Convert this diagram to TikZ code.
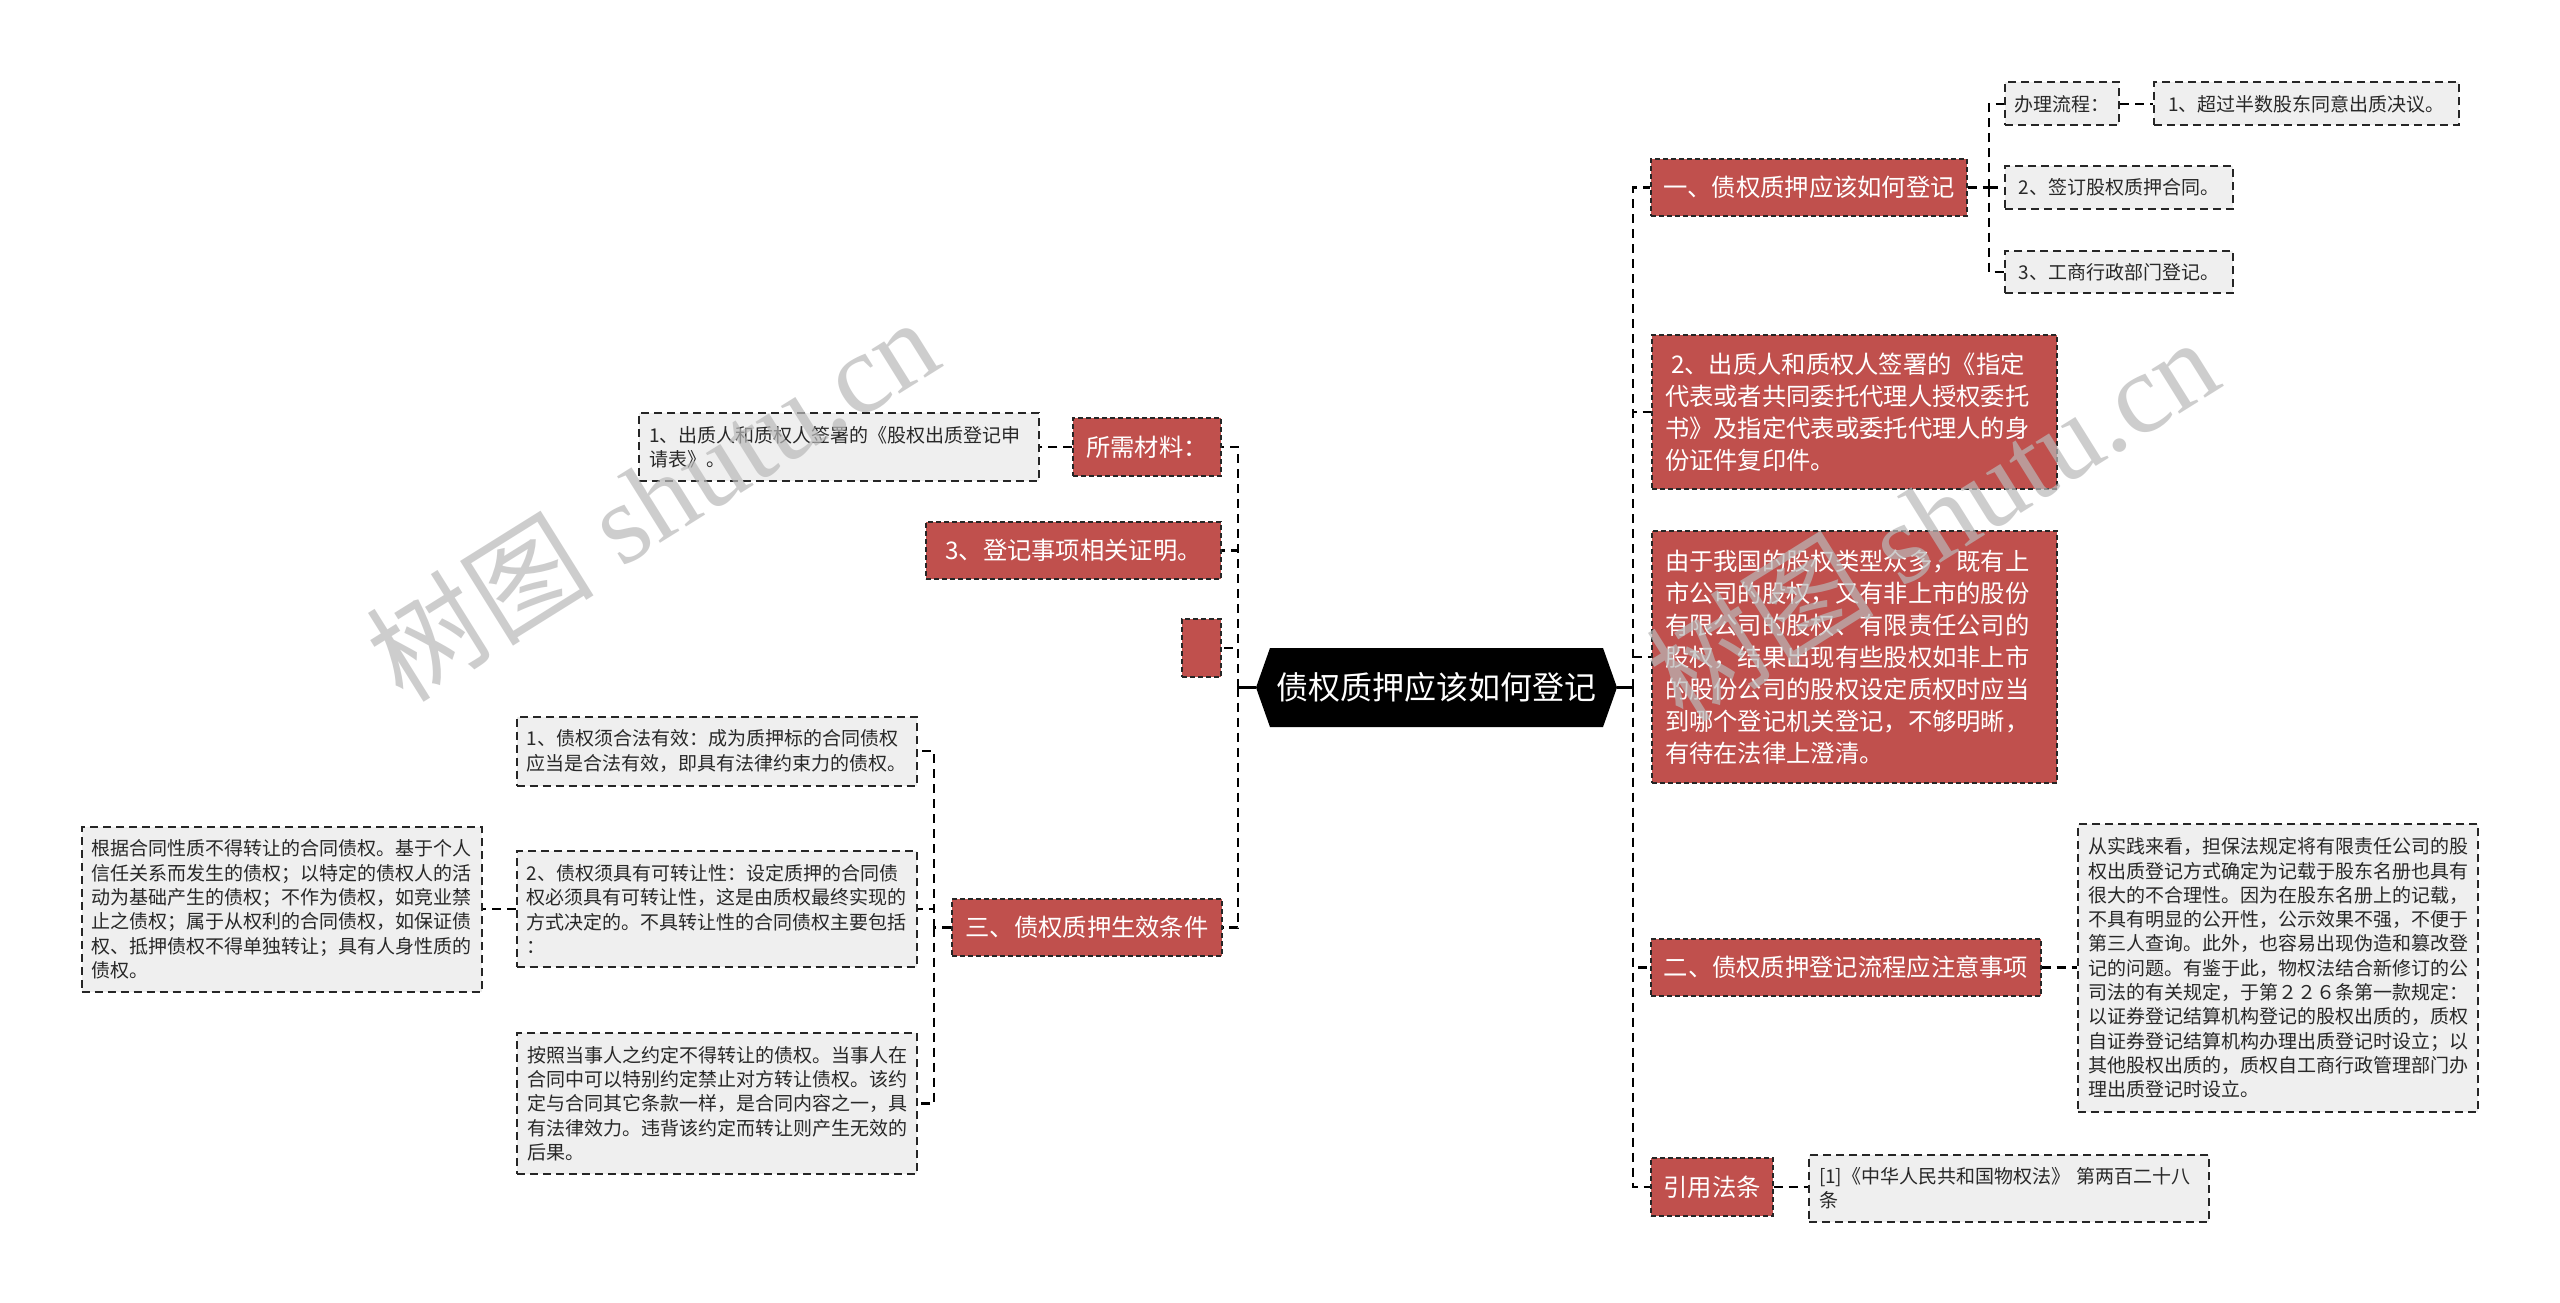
\documentclass[tikz,border=0pt]{standalone}
\usepackage{fontspec}
\newfontfamily\cjk{Noto Sans CJK SC}
\newfontfamily\wmserif{Liberation Serif}
\usetikzlibrary{shapes.symbols}
\definecolor{nodered}{RGB}{192,80,77}
\definecolor{nodegray}{RGB}{239,239,239}
\definecolor{wmgray}{RGB}{185,185,185}
\definecolor{graytext}{RGB}{40,40,40}
\begin{document}
\begin{tikzpicture}[x=1pt,y=-1pt,
  redbox/.style={fill=nodered, draw=black!85, line width=1.3pt, dash pattern=on 5pt off 3pt,
    text=white, font=\cjk\fontsize{24.3pt}{32.1pt}\selectfont, inner xsep=0pt, inner ysep=0pt},
  redmulti/.style={redbox, text width=379pt, align=left, inner xsep=13pt},
  graybox/.style={fill=nodegray, draw=black!85, line width=2pt, dash pattern=on 8pt off 5pt,
    text=graytext, font=\cjk\fontsize{19pt}{24.3pt}\selectfont, inner xsep=0pt, inner ysep=0pt},
  graymulti/.style={graybox, text width=380pt, align=left, inner xsep=10pt},
  centernode/.style={signal, signal to=west and east, signal pointer angle=141, fill=black,
    text=white, font=\cjk\fontsize{32pt}{32pt}\selectfont, minimum height=79pt,
    minimum width=361pt, inner xsep=4pt},
  conn/.style={draw=black, line width=2.5pt, dash pattern=on 9pt off 6pt},
  solidline/.style={draw=black, line width=2.5pt},
  wm/.style={text=wmgray, opacity=0.7, font=\wmserif\fontsize{114pt}{114pt}\selectfont}
]
\fill[white] (0,0) rectangle (2560,1303);
\useasboundingbox (0,0) rectangle (2560,1303);

% centre
\node[centernode] (C) at (1436.5,687.5) {债权质押应该如何登记};

% right side
\node[redbox, minimum width=316pt, minimum height=57pt] (R1) at (1809,187.5) {一、债权质押应该如何登记};
\node[redmulti, minimum height=154pt] (R2) at (1854.5,412) {\hspace*{6pt}2、出质人和质权人签署的《指定\\代表或者共同委托代理人授权委托\\书》及指定代表或委托代理人的身\\份证件复印件。};
\node[redmulti, minimum height=252pt] (R3) at (1854.5,657) {由于我国的股权类型众多，既有上\\市公司的股权，又有非上市的股份\\有限公司的股权、有限责任公司的\\股权，结果出现有些股权如非上市\\的股份公司的股权设定质权时应当\\到哪个登记机关登记，不够明晰，\\有待在法律上澄清。};
\node[redbox, minimum width=390pt, minimum height=57pt] (R4) at (1846,967.5) {二、债权质押登记流程应注意事项};
\node[redbox, minimum width=122pt, minimum height=58pt] (R5) at (1712,1187) {引用法条};

\node[graybox, minimum width=114pt, minimum height=43pt] (R1a) at (2062,104) {办理流程：};
\node[graybox, minimum width=305pt, minimum height=43pt] (R1a1) at (2306.5,104) {1、超过半数股东同意出质决议。};
\node[graybox, minimum width=228pt, minimum height=43pt] (R1b) at (2119,187.5) {2、签订股权质押合同。};
\node[graybox, minimum width=228pt, minimum height=42pt] (R1c) at (2119,272) {3、工商行政部门登记。};

\node[graymulti, minimum height=288pt] (R4a) at (2278,968) {从实践来看，担保法规定将有限责任公司的股\\权出质登记方式确定为记载于股东名册也具有\\很大的不合理性。因为在股东名册上的记载，\\不具有明显的公开性，公示效果不强，不便于\\第三人查询。此外，也容易出现伪造和篡改登\\记的问题。有鉴于此，物权法结合新修订的公\\司法的有关规定，于第２２６条第一款规定：\\以证券登记结算机构登记的股权出质的，质权\\自证券登记结算机构办理出质登记时设立；以\\其他股权出质的，质权自工商行政管理部门办\\理出质登记时设立。};
\node[graymulti, minimum height=67pt] (R5a) at (2009,1188) {[1]《中华人民共和国物权法》 第两百二十八\\条};

% left side
\node[redbox, minimum width=148pt, minimum height=58pt] (L1) at (1147,447) {所需材料：};
\node[redbox, minimum width=295pt, minimum height=57pt] (L2) at (1073.5,550.5) {3、登记事项相关证明。};
\node[redbox, minimum width=39pt, minimum height=58pt] (L3) at (1201.5,648) {};
\node[redbox, minimum width=270pt, minimum height=57pt] (L4) at (1087,927.5) {三、债权质押生效条件};

\node[graymulti, minimum height=68pt] (L1a) at (839,447) {1、出质人和质权人签署的《股权出质登记申\\请表》。};
\node[graymulti, minimum height=69pt] (L4a) at (716.5,751) {1、债权须合法有效：成为质押标的合同债权\\应当是合法有效，即具有法律约束力的债权。};
\node[graymulti, minimum height=116pt] (L4b) at (716.5,909) {2、债权须具有可转让性：设定质押的合同债\\权必须具有可转让性，这是由质权最终实现的\\方式决定的。不具转让性的合同债权主要包括\\：};
\node[graymulti, minimum height=141pt] (L4c) at (717,1103.5) {按照当事人之约定不得转让的债权。当事人在\\合同中可以特别约定禁止对方转让债权。该约\\定与合同其它条款一样，是合同内容之一，具\\有法律效力。违背该约定而转让则产生无效的\\后果。};
\node[graymulti, minimum height=165pt] (L4b1) at (281.5,909.5) {根据合同性质不得转让的合同债权。基于个人\\信任关系而发生的债权；以特定的债权人的活\\动为基础产生的债权；不作为债权，如竞业禁\\止之债权；属于从权利的合同债权，如保证债\\权、抵押债权不得单独转让；具有人身性质的\\债权。};

% connectors
\coordinate (RT) at (1633,687.5);
\coordinate (LT) at (1238,687.5);
\draw[solidline] (C.east) -- (RT);
\draw[solidline] (C.west) -- (LT);
\foreach \n in {R1,R2,R3,R4,R5} \draw[conn] (RT) |- (\n.west);
\foreach \n in {L1,L2,L3,L4} \draw[conn] (LT) |- (\n.east);

\coordinate (R1T) at (1989,187.5);
\draw[conn] (R1.east) -- (R1T);
\foreach \n in {R1a,R1b,R1c} \draw[conn] (R1T) |- (\n.west);
\draw[conn] (R1a.east) -- (R1a1.west);
\draw[conn] (R4.east) -- (R4.east -| R4a.west);
\draw[conn] (R5.east) -- (R5.east -| R5a.west);
\draw[conn] (L1.west) -- (L1.west -| L1a.east);

\coordinate (L4T) at (934,927.5);
\draw[conn] (L4.west) -- (L4T);
\foreach \n in {L4a,L4b,L4c} \draw[conn] (L4T) |- (\n.east);
\draw[conn] (L4b.west) -- (L4b.west -| L4b1.east);

% watermarks
\node[wm, rotate=32] (wm1) at (652,498) {{\cjk 树图} shutu.cn};
\node[wm, rotate=32] (wm2) at (1932,518) {{\cjk 树图} shutu.cn};
\end{tikzpicture}
\end{document}
